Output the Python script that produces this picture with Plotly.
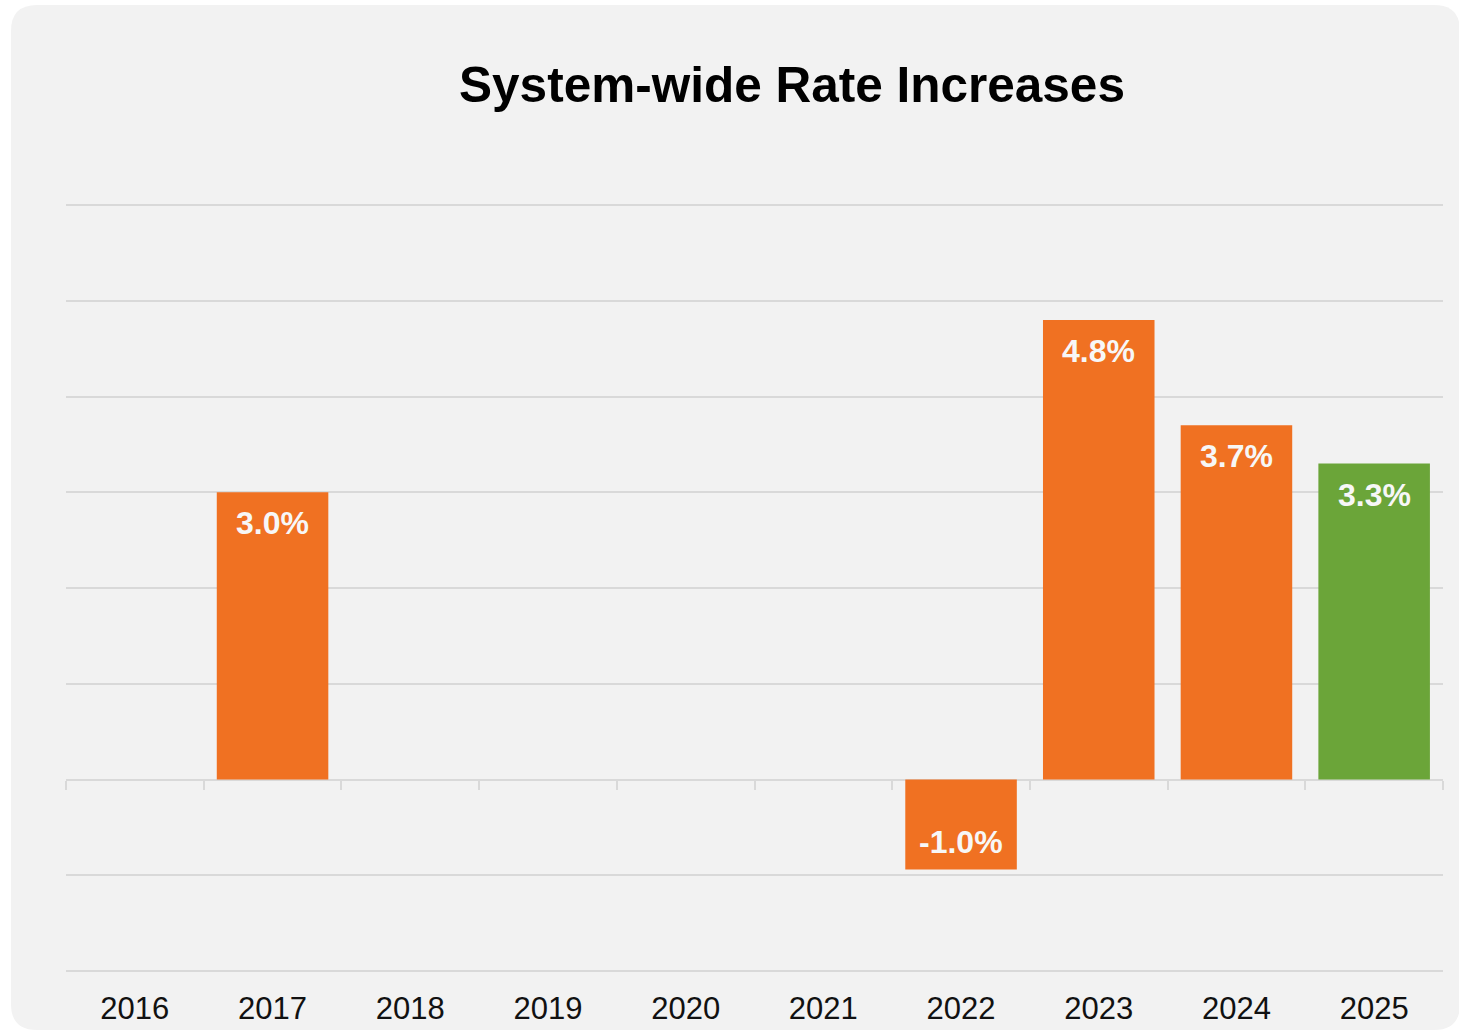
import plotly.graph_objects as go

years = ["2016", "2017", "2018", "2019", "2020", "2021", "2022", "2023", "2024", "2025"]
rate_increase = [0, 3.0, 0, 0, 0, 0, -0.94, 4.8, 3.7, 3.3]
bar_labels = ["", "3.0%", "", "", "", "", "-1.0%", "4.8%", "3.7%", "3.3%"]
bar_colors = ["#F07122"] * 9 + ["#6BA539"]

W, H = 1459, 1030
ML, MR, MT, MB = 66, 16, 202, 56
pw = W - ML - MR
ph = H - MT - MB
YMIN, YMAX = -2.0313, 6.0313

fig = go.Figure()
fig.add_trace(go.Bar(
    x=years, y=rate_increase,
    marker=dict(color=bar_colors, line=dict(width=0)),
    hoverinfo="x+y", showlegend=False,
))
# helper trace for boundary tick marks on the zero line
fig.add_trace(go.Scatter(
    x=years, y=[0] * len(years), xaxis="x2", mode="markers",
    marker=dict(opacity=0), hoverinfo="skip", showlegend=False,
))

annotations = []
for i, (v, lab) in enumerate(zip(rate_increase, bar_labels)):
    if not lab:
        continue
    annotations.append(dict(
        x=i, y=v, xref="x", yref="y", text="<b>" + lab + "</b>", showarrow=False,
        yanchor="top" if v > 0 else "bottom",
        yshift=-11 if v > 0 else 8,
        font=dict(family="Arial, Liberation Sans, sans-serif", size=32, color="#F7F7F7"),
    ))

# rounded background panel (pixel -> paper)
def px(x):
    return (x - ML) / pw

def py(y):
    return (H - MB - y) / ph

x0, x1, y0, y1, r = 11, 1460, 5, 1030, 26
path = (
    f"M {px(x0 + r)} {py(y0)} L {px(x1 - r)} {py(y0)} "
    f"Q {px(x1)} {py(y0)} {px(x1)} {py(y0 + r)} "
    f"L {px(x1)} {py(y1 - r)} Q {px(x1)} {py(y1)} {px(x1 - r)} {py(y1)} "
    f"L {px(x0 + r)} {py(y1)} Q {px(x0)} {py(y1)} {px(x0)} {py(y1 - r)} "
    f"L {px(x0)} {py(y0 + r)} Q {px(x0)} {py(y0)} {px(x0 + r)} {py(y0)} Z"
)

fig.update_layout(
    width=W, height=H,
    margin=dict(l=ML, r=MR, t=MT, b=MB, pad=0, autoexpand=False),
    paper_bgcolor="white",
    plot_bgcolor="rgba(0,0,0,0)",
    bargap=0.19,
    title=dict(
        text="<b>System-wide Rate Increases</b>",
        x=792 / W, xref="container", xanchor="center",
        y=1 - 85 / H, yref="container", yanchor="middle",
        font=dict(family="Arial, Liberation Sans, sans-serif", size=49.5, color="black"),
    ),
    xaxis=dict(
        type="category", categoryarray=years, range=[-0.5, 9.5],
        showgrid=False, zeroline=False, showline=False, ticks="",
        tickfont=dict(family="Arial, Liberation Sans, sans-serif", size=31, color="#111111"),
        ticklabelstandoff=13, automargin=False,
    ),
    xaxis2=dict(
        type="category", categoryarray=years, range=[-0.5, 9.5],
        overlaying="x", anchor="free", position=(0 - YMIN) / (YMAX - YMIN), side="bottom",
        showgrid=False, zeroline=False, showline=False,
        ticks="outside", tickson="boundaries", ticklen=9, tickwidth=2, tickcolor="#D9D9D9",
        showticklabels=False, matches="x", automargin=False,
    ),
    yaxis=dict(
        range=[YMIN, YMAX], dtick=1, tick0=0,
        showgrid=True, gridcolor="#D9D9D9", gridwidth=2,
        zeroline=True, zerolinecolor="#D9D9D9", zerolinewidth=2,
        showticklabels=False, ticks="", showline=False, automargin=False,
    ),
    shapes=[dict(type="path", path=path, xref="paper", yref="paper",
                 fillcolor="#F2F2F2", line=dict(width=0), layer="below")],
    annotations=annotations,
)

fig.write_html("out.html")
